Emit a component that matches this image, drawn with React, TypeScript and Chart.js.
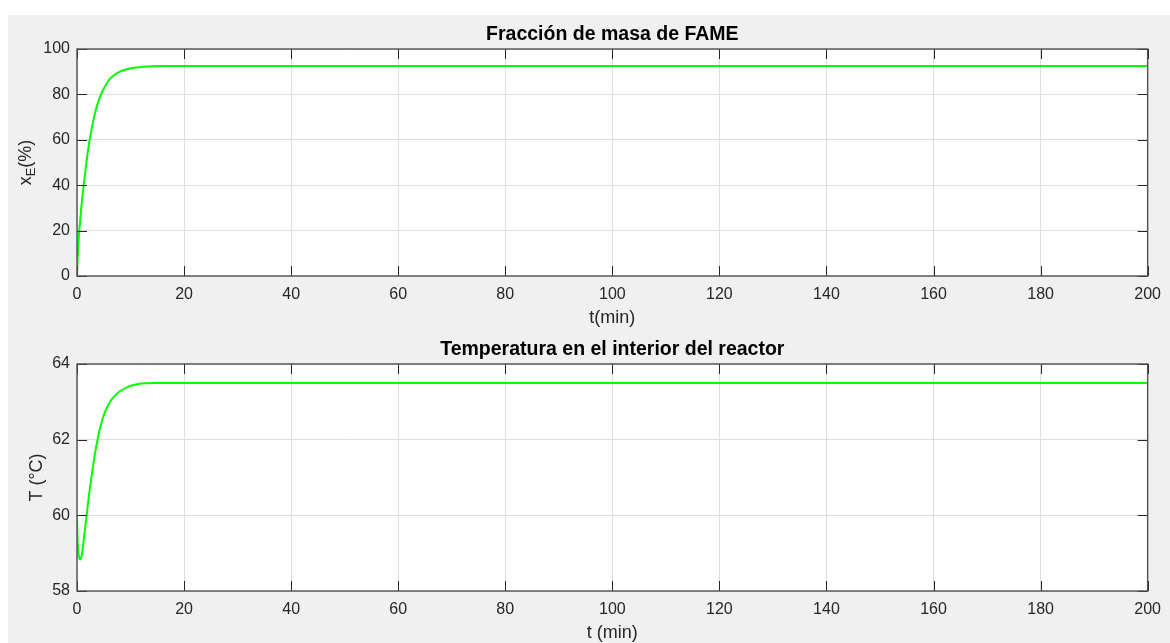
import React, { useEffect, useRef } from "react";
import { Chart, registerables } from "chart.js";

Chart.register(...registerables);

// ---- data ----
const tXE = [0, 0.1, 0.25, 0.5, 0.8, 1.2, 1.6, 2.1, 2.6, 3.0, 3.5, 4.3, 5.0, 5.8, 6.8, 8.0, 9.5, 11.0, 12.5, 14.0, 16.0, 20.0, 200.0];
const xE = [0, 7, 14, 22, 30, 39, 47, 56, 63, 68, 73, 79, 82.5, 85.8, 88.2, 90, 91.2, 91.8, 92.2, 92.4, 92.5, 92.5, 92.5];

const tTemp = [0, 0.05, 0.2, 0.4, 0.6, 0.9, 1.3, 1.8, 2.3, 2.7, 3.2, 3.7, 4.3, 4.9, 5.6, 6.4, 7.2, 8.0, 9.0, 10.2, 11.5, 13.0, 14.5, 20.0, 200.0];
const tempC = [60.0, 59.6, 59.1, 58.9, 58.83, 58.95, 59.4, 60.0, 60.6, 61.0, 61.5, 61.9, 62.3, 62.6, 62.85, 63.05, 63.18, 63.28, 63.36, 63.43, 63.47, 63.49, 63.5, 63.5, 63.5];

const xRange = [0, 200];
const xStep = 20;
const y1Range = [0, 100];
const y1Step = 20;
const y2Range = [58, 64];
const y2Step = 2;

const title1 = "Fracción de masa de FAME";
const title2 = "Temperatura en el interior del reactor";
const xLabel1 = "t(min)";
const xLabel2 = "t (min)";
const yLabel1Main = "x";
const yLabel1Sub = "E";
const yLabel1Tail = "(%)";
const yLabel2 = "T (°C)";

const FONT = "'Liberation Sans', Arial, Helvetica, sans-serif";
const TEXT = "#262626";

const W = 1162;
const H = 315;

const matlabAxes = {
  id: "matlabAxes",
  beforeDraw(chart: any) {
    const { ctx, chartArea: a } = chart;
    ctx.save();
    ctx.fillStyle = "#ffffff";
    ctx.fillRect(a.left, a.top, a.right - a.left, a.bottom - a.top);
    ctx.restore();
  },
  afterDatasetsDraw(chart: any) {
    const { ctx, chartArea: a, scales } = chart;
    const xs = scales.x;
    const ys = scales.y;
    const L = 10;
    ctx.save();
    ctx.strokeStyle = "#262626";
    ctx.lineWidth = 1;
    ctx.beginPath();
    xs.ticks.forEach((t: any) => {
      const px = Math.round(xs.getPixelForValue(t.value)) + 0.5;
      ctx.moveTo(px, a.bottom);
      ctx.lineTo(px, a.bottom - L);
      ctx.moveTo(px, a.top);
      ctx.lineTo(px, a.top + L);
    });
    ys.ticks.forEach((t: any) => {
      const py = Math.round(ys.getPixelForValue(t.value)) + 0.5;
      ctx.moveTo(a.left, py);
      ctx.lineTo(a.left + L, py);
      ctx.moveTo(a.right, py);
      ctx.lineTo(a.right - L, py);
    });
    ctx.stroke();
    ctx.strokeStyle = "#505050";
    ctx.lineWidth = 1.4;
    ctx.strokeRect(a.left, a.top, a.right - a.left, a.bottom - a.top);
    ctx.restore();
  },
};

const subLabelPlugin = {
  id: "subLabel",
  afterDraw(chart: any, _args: any, opts: any) {
    if (!opts || !opts.display) return;
    const { ctx, chartArea: a } = chart;
    const big = `18px ${FONT}`;
    const small = `13px ${FONT}`;
    ctx.save();
    ctx.font = big;
    const w1 = ctx.measureText(opts.main).width;
    const w3 = ctx.measureText(opts.tail).width;
    ctx.font = small;
    const w2 = ctx.measureText(opts.sub).width;
    const total = w1 + w2 + w3;
    const cy = (a.top + a.bottom) / 2;
    ctx.translate(opts.x, cy);
    ctx.rotate(-Math.PI / 2);
    ctx.fillStyle = TEXT;
    ctx.textBaseline = "middle";
    ctx.textAlign = "left";
    let x = -total / 2;
    ctx.font = big;
    ctx.fillText(opts.main, x, 0);
    x += w1;
    ctx.font = small;
    ctx.fillText(opts.sub, x, 5);
    x += w2;
    ctx.font = big;
    ctx.fillText(opts.tail, x, 0);
    ctx.restore();
  },
};

type SubProps = {
  t: number[];
  v: number[];
  yRange: number[];
  yStep: number;
  title: string;
  xLabel: string;
  yLabel: string | null;
  sub: boolean;
  top: number;
};

function SubPlot(p: SubProps) {
  const ref = useRef<HTMLCanvasElement | null>(null);
  useEffect(() => {
    if (!ref.current) return;
    const chart = new Chart(ref.current, {
      type: "line",
      data: {
        datasets: [
          {
            data: p.t.map((x, i) => ({ x, y: p.v[i] })),
            borderColor: "#00ff00",
            borderWidth: 2,
            pointRadius: 0,
            fill: false,
            cubicInterpolationMode: "monotone",
          },
        ],
      },
      plugins: [matlabAxes, subLabelPlugin],
      options: {
        responsive: false,
        animation: false,
        events: [],
        layout: { padding: { left: 0, right: 13, top: 0, bottom: 0 } },
        plugins: {
          legend: { display: false },
          tooltip: { enabled: false },
          title: {
            display: true,
            text: p.title,
            color: "#000000",
            fullSize: false,
            font: { family: FONT, size: 19.5, weight: "bold", lineHeight: 1.2 },
            padding: { top: 7.5, bottom: 3.1 },
          },
          subLabel: {
            display: p.sub,
            main: yLabel1Main,
            sub: yLabel1Sub,
            tail: yLabel1Tail,
            x: 18,
          },
        } as any,
        scales: {
          x: {
            type: "linear",
            min: xRange[0],
            max: xRange[1],
            afterFit: (s: any) => {
              s.height = 54;
            },
            ticks: {
              stepSize: xStep,
              color: TEXT,
              padding: 9,
              maxRotation: 0,
              font: { family: FONT, size: 16 },
            },
            grid: { color: "#dedede", lineWidth: 1, drawTicks: false },
            border: { display: false },
            title: {
              display: true,
              text: p.xLabel,
              color: TEXT,
              font: { family: FONT, size: 18, lineHeight: 1.2 },
              padding: { top: 0, bottom: 1.2 },
            },
          },
          y: {
            type: "linear",
            min: p.yRange[0],
            max: p.yRange[1],
            afterFit: (s: any) => {
              s.width = 69;
            },
            ticks: {
              stepSize: p.yStep,
              color: TEXT,
              padding: 7,
              font: { family: FONT, size: 16 },
            },
            grid: { color: "#dedede", lineWidth: 1, drawTicks: false },
            border: { display: false },
            title: {
              display: !!p.yLabel,
              text: p.yLabel || "",
              color: TEXT,
              font: { family: FONT, size: 18, lineHeight: 1.2 },
              padding: { top: 18.7, bottom: 0 },
            },
          },
        },
      } as any,
    });
    return () => chart.destroy();
  }, []);
  return (
    <canvas
      ref={ref}
      width={W}
      height={H}
      style={{ position: "absolute", left: 0, top: p.top, width: W, height: H, display: "block" }}
    />
  );
}

export default function App() {
  return (
    <div
      style={{
        position: "fixed",
        left: 8,
        top: 15,
        width: W,
        height: 628,
        background: "#f0f0f0",
        overflow: "hidden",
      }}
    >
      <SubPlot t={tXE} v={xE} yRange={y1Range} yStep={y1Step} title={title1} xLabel={xLabel1} yLabel={null} sub={true} top={0} />
      <SubPlot t={tTemp} v={tempC} yRange={y2Range} yStep={y2Step} title={title2} xLabel={xLabel2} yLabel={yLabel2} sub={false} top={315} />
    </div>
  );
}
